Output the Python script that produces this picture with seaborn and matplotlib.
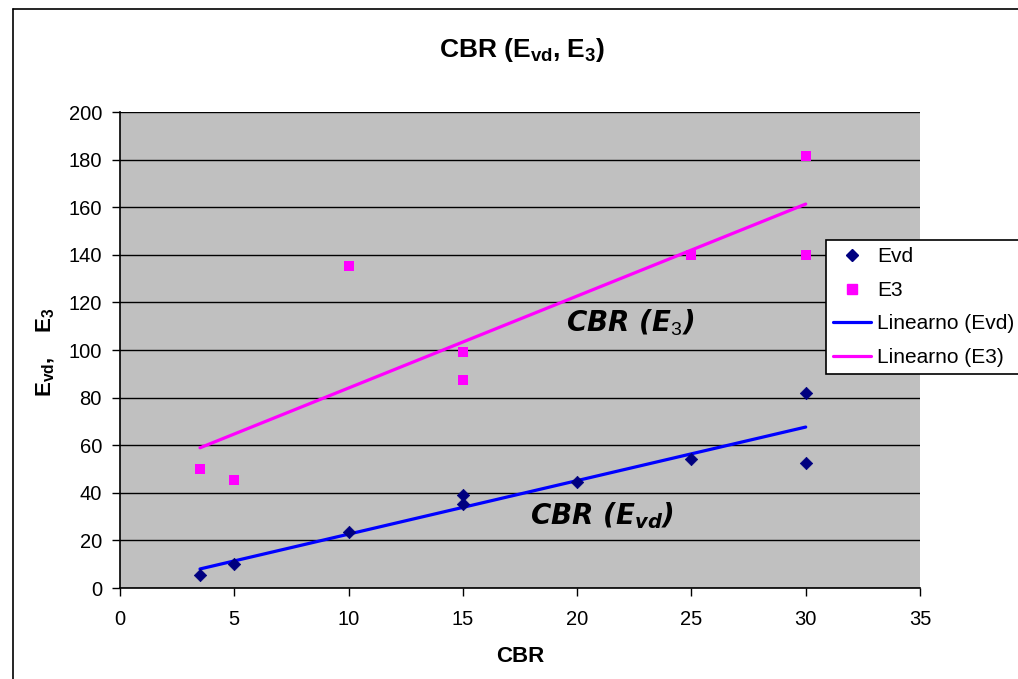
import numpy as np
import pandas as pd
import matplotlib
matplotlib.use("Agg")
import matplotlib.pyplot as plt
import seaborn as sns
from matplotlib.lines import Line2D

# ---- data ----
evd_cbr = [3.5, 5, 10, 15, 15, 20, 25, 30, 30]
evd_val = [5.5, 10, 23.5, 39, 35.5, 44.5, 54, 82, 52.5]
e3_cbr = [3.5, 5, 10, 15, 15, 25, 30, 30]
e3_val = [50, 45.5, 135.5, 99, 87.5, 140, 181.5, 140]
x_ticks = [0, 5, 10, 15, 20, 25, 30, 35]
y_ticks = [0, 20, 40, 60, 80, 100, 120, 140, 160, 180, 200]
legend_labels = ["Evd", "E3", "Linearno (Evd)", "Linearno (E3)"]

sns.set_theme(style="white")
plt.rcParams["font.family"] = ["Liberation Sans", "DejaVu Sans"]
plt.rcParams["text.color"] = "black"
plt.rcParams["axes.labelcolor"] = "black"
plt.rcParams["xtick.color"] = "black"
plt.rcParams["ytick.color"] = "black"
plt.rcParams["mathtext.fontset"] = "custom"
plt.rcParams["mathtext.rm"] = "Liberation Sans"
plt.rcParams["mathtext.bf"] = "Liberation Sans:bold"
plt.rcParams["mathtext.it"] = "DejaVu Sans:bold:italic"

df_evd = pd.DataFrame({"CBR": evd_cbr, "val": evd_val})
df_e3 = pd.DataFrame({"CBR": e3_cbr, "val": e3_val})

fig = plt.figure(figsize=(10.18, 6.79), dpi=100)
ax = fig.add_axes([120/1018, 1-588/679, 800/1018, 476/679])
ax.set_facecolor("#C0C0C0")

C_EVD_M = "#000080"
C_E3 = "#FF00FF"
C_EVD_L = "#0000FF"

sns.regplot(data=df_evd, x="CBR", y="val", ax=ax, scatter=False, ci=None,
            line_kws=dict(color=C_EVD_L, lw=2.3))
sns.regplot(data=df_e3, x="CBR", y="val", ax=ax, scatter=False, ci=None,
            line_kws=dict(color=C_E3, lw=2.3))
sns.scatterplot(data=df_evd, x="CBR", y="val", ax=ax, marker="D", s=40,
                color=C_EVD_M, edgecolor=C_EVD_M, linewidth=0.5, zorder=4)
sns.scatterplot(data=df_e3, x="CBR", y="val", ax=ax, marker="s", s=44,
                color=C_E3, edgecolor=C_E3, linewidth=0, zorder=4)

ax.set_xlim(0, 35)
ax.set_ylim(0, 200)
ax.set_xticks(x_ticks)
ax.set_yticks(y_ticks)
ax.set_xticklabels([str(v) for v in x_ticks])
ax.set_yticklabels([str(v) for v in y_ticks])
ax.tick_params(axis="both", direction="out", length=6, width=1, color="black",
               labelsize=14.5, pad=8, labelcolor="black")
ax.tick_params(axis="x", bottom=True, pad=10)
ax.tick_params(axis="y", left=True, pad=7)
ax.yaxis.grid(True, color="black", lw=1)
ax.xaxis.grid(False)
ax.set_axisbelow(True)
for s in ["top", "right"]:
    ax.spines[s].set_visible(False)
for s in ["left", "bottom"]:
    ax.spines[s].set_color("black")
    ax.spines[s].set_linewidth(1.2)
ax.set_xlabel("")
ax.set_ylabel("")

fig.text(522/1018, 1-50/679, r"CBR (E$\mathbf{_{vd}}$, E$\mathbf{_3}$)",
         ha="center", va="center", fontsize=19, fontweight="bold", color="black")
fig.text(520/1018, 1-657/679, "CBR", ha="center", va="center",
         fontsize=16, fontweight="bold", color="black")
fig.text(46/1018, 1-352/679, r"E$\mathbf{_{vd}}$,    E$\mathbf{_3}$",
         ha="center", va="center", rotation=90, fontsize=16, fontweight="bold",
         color="black")

ax.text(22.3, 111.5, r"CBR (E$_{3}$)", ha="center", va="center", color="black",
        fontsize=20, fontweight="bold", style="italic", family="DejaVu Sans")
ax.text(21.1, 30.5, r"CBR (E$_{vd}$)", ha="center", va="center", color="black",
        fontsize=20, fontweight="bold", style="italic", family="DejaVu Sans")

handles = [
    Line2D([], [], ls="none", marker="D", color=C_EVD_M, markersize=6),
    Line2D([], [], ls="none", marker="s", color=C_E3, markersize=7),
    Line2D([], [], color=C_EVD_L, lw=2.3),
    Line2D([], [], color=C_E3, lw=2.3),
]
leg = fig.legend(handles, legend_labels, loc="upper left",
                 bbox_to_anchor=(826/1018, 1-240/679), fontsize=15,
                 frameon=True, fancybox=False, edgecolor="black",
                 facecolor="white", framealpha=1, borderpad=0.35,
                 labelspacing=0.7, handlelength=1.8, handletextpad=0.3,
                 borderaxespad=0, labelcolor="black")
leg.get_frame().set_linewidth(1.2)

# outer chart border
fig.add_artist(Line2D([13/1018, 13/1018], [0, 1-9/679], color="black", lw=1.2,
                      transform=fig.transFigure))
fig.add_artist(Line2D([13/1018, 1], [1-9/679, 1-9/679], color="black", lw=1.2,
                      transform=fig.transFigure))

fig.savefig("out.png", dpi=100, facecolor="white")
